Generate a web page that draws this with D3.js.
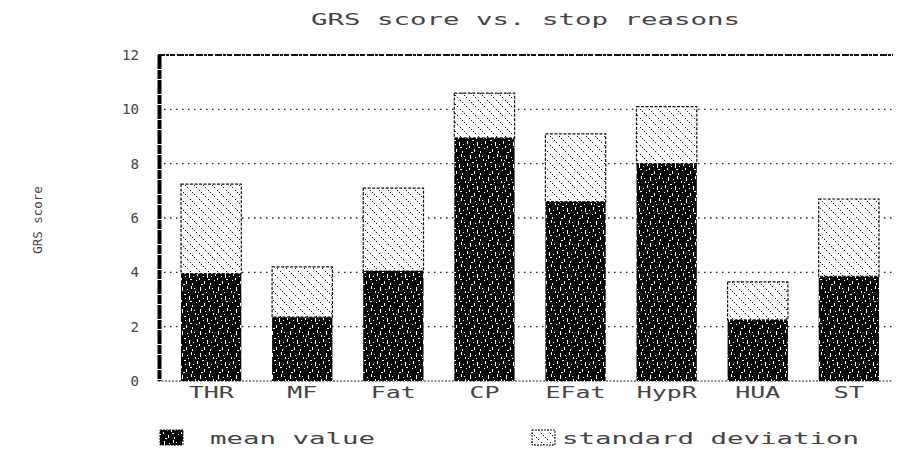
<!DOCTYPE html>
<html>
<head>
<meta charset="utf-8">
<script src="https://cdn.jsdelivr.net/npm/d3@7"></script>
<style>
  html, body { margin: 0; padding: 0; background: #fff; }
  svg { display: block; }
  text { font-family: "DejaVu Sans Mono", monospace; fill: #444; }
</style>
</head>
<body>
<svg id="chart" width="914" height="458"></svg>
<script>
// Stop reasons and GRS score statistics
const categories = ["THR", "MF", "Fat", "CP", "EFat", "HypR", "HUA", "ST"];
const meanValues = [3.95, 2.35, 4.05, 8.95, 6.6, 8.0, 2.25, 3.85];
const stdValues  = [3.3, 1.85, 3.05, 1.65, 2.5, 2.1, 1.4, 2.85];
const yTicks = [0, 2, 4, 6, 8, 10, 12];
const titleText = "GRS score vs. stop reasons";
const yLabelText = "GRS score";
const legendLabels = ["mean value", "standard deviation"];

const plot = { left: 158, right: 893, top: 55, bottom: 381 };

const svg = d3.select("#chart");
const defs = svg.append("defs");

// Dense dark texture for the mean portion
const dark = defs.append("pattern")
  .attr("id", "darkFill").attr("patternUnits", "userSpaceOnUse")
  .attr("width", 18).attr("height", 22);
dark.append("rect").attr("width", 18).attr("height", 22).attr("fill", "#050505");
const specks = [[2,1,1,4],[7,3,1,1],[11,0,1,3],[15,5,1,2],[4,8,2,1],[9,10,1,4],[13,12,1,1],
                [1,14,1,2],[6,17,1,3],[16,16,1,1],[3,20,2,1],[12,19,1,2],[8,6,1,1],[17,9,1,3],
                [5,12,1,1],[14,2,1,1],[10,15,2,1],[0,6,1,1]];
specks.forEach(([x, y, w, h]) => dark.append("rect")
  .attr("x", x).attr("y", y).attr("width", w).attr("height", h).attr("fill", "#fff"));

// Diagonal dotted hatching for the deviation portion
const hatch = defs.append("pattern")
  .attr("id", "hatchFill").attr("patternUnits", "userSpaceOnUse")
  .attr("width", 9).attr("height", 9);
hatch.append("rect").attr("width", 9).attr("height", 9).attr("fill", "#fff");
hatch.append("path").attr("d", "M-1,-1 L10,10 M-1,8 L1,10 M8,-1 L10,1")
  .attr("stroke", "#111").attr("stroke-width", 1).attr("stroke-dasharray", "1.5,1.3");

const x = d3.scaleBand().domain(categories).range([181, 879]).paddingInner(0.338).paddingOuter(0);
const y = d3.scaleLinear().domain([0, 12]).range([plot.bottom, plot.top]);

// Dotted grid lines
svg.append("g").selectAll("line").data(yTicks.filter(t => t > 0 && t < 12)).join("line")
  .attr("x1", plot.left).attr("x2", plot.right)
  .attr("y1", d => y(d)).attr("y2", d => y(d))
  .attr("stroke", "#222").attr("stroke-width", 1.3).attr("stroke-dasharray", "1.5,4.5");

// Top border
svg.append("line").attr("x1", plot.left).attr("x2", plot.right)
  .attr("y1", y(12)).attr("y2", y(12))
  .attr("stroke", "#111").attr("stroke-width", 2).attr("stroke-dasharray", "7,1,3,1,5,2");

// Baseline
svg.append("line").attr("x1", plot.left).attr("x2", plot.right)
  .attr("y1", y(0)).attr("y2", y(0))
  .attr("stroke", "#222").attr("stroke-width", 1.2).attr("stroke-dasharray", "2,1.5");

// Bars: mean portion
const bars = svg.append("g");
bars.selectAll("rect.mean").data(categories).join("rect").attr("class", "mean")
  .attr("x", d => x(d)).attr("width", x.bandwidth())
  .attr("y", (d, i) => y(meanValues[i]))
  .attr("height", (d, i) => y(0) - y(meanValues[i]))
  .attr("fill", "url(#darkFill)");

// Bars: standard deviation portion stacked on the mean
bars.selectAll("rect.sd").data(categories).join("rect").attr("class", "sd")
  .attr("x", d => x(d)).attr("width", x.bandwidth())
  .attr("y", (d, i) => y(meanValues[i] + stdValues[i]))
  .attr("height", (d, i) => y(meanValues[i]) - y(meanValues[i] + stdValues[i]))
  .attr("fill", "url(#hatchFill)")
  .attr("stroke", "#111").attr("stroke-width", 1.2).attr("stroke-dasharray", "3,1.5");

// Left axis as a heavy rule
svg.append("line").attr("x1", plot.left + 1.5).attr("x2", plot.left + 1.5)
  .attr("y1", plot.top).attr("y2", plot.bottom)
  .attr("stroke", "#000").attr("stroke-width", 4).attr("stroke-dasharray", "14,1,9,1");

// Y axis tick labels
const yAxis = d3.axisLeft(y).tickValues(yTicks).tickSize(0).tickPadding(19)
  .tickFormat(d3.format("d"));
const gy = svg.append("g").attr("transform", `translate(${plot.left},0)`).call(yAxis);
gy.select(".domain").remove();
gy.selectAll("text").attr("font-size", 14).attr("fill", "#444")
  .attr("font-family", "DejaVu Sans Mono")
  .attr("textLength", d => String(d).length * 8.5).attr("lengthAdjust", "spacingAndGlyphs");

// X axis category labels
const xAxis = d3.axisBottom(x).tickSize(0).tickPadding(6);
const gx = svg.append("g").attr("transform", `translate(0,${plot.bottom})`).call(xAxis);
gx.select(".domain").remove();
gx.selectAll("text").attr("font-size", 15).attr("fill", "#444")
  .attr("font-family", "DejaVu Sans Mono")
  .attr("textLength", d => d.length * 15).attr("lengthAdjust", "spacingAndGlyphs");

// Title
svg.append("text").attr("x", (plot.left + plot.right) / 2).attr("y", 25)
  .attr("text-anchor", "middle").attr("font-size", 15)
  .attr("textLength", titleText.length * 16.5).attr("lengthAdjust", "spacingAndGlyphs")
  .text(titleText);

// Y axis title
svg.append("text").attr("transform", "translate(42,220) rotate(-90)")
  .attr("text-anchor", "middle").attr("font-size", 12)
  .attr("textLength", yLabelText.length * 7.5).attr("lengthAdjust", "spacingAndGlyphs")
  .text(yLabelText);

// Legend
const legend = [
  { x: 160, fill: "url(#darkFill)", label: legendLabels[0], tx: 210 },
  { x: 532, fill: "url(#hatchFill)", label: legendLabels[1], tx: 562 }
];
const lg = svg.append("g").selectAll("g").data(legend).join("g");
lg.append("rect").attr("x", d => d.x).attr("y", 430).attr("width", 23).attr("height", 15)
  .attr("fill", d => d.fill).attr("stroke", "#111").attr("stroke-width", 1)
  .attr("stroke-dasharray", "2,1");
lg.append("text").attr("x", d => d.tx).attr("y", 444).attr("font-size", 15)
  .attr("textLength", d => d.label.length * 16.5).attr("lengthAdjust", "spacingAndGlyphs")
  .text(d => d.label);
</script>
</body>
</html>
